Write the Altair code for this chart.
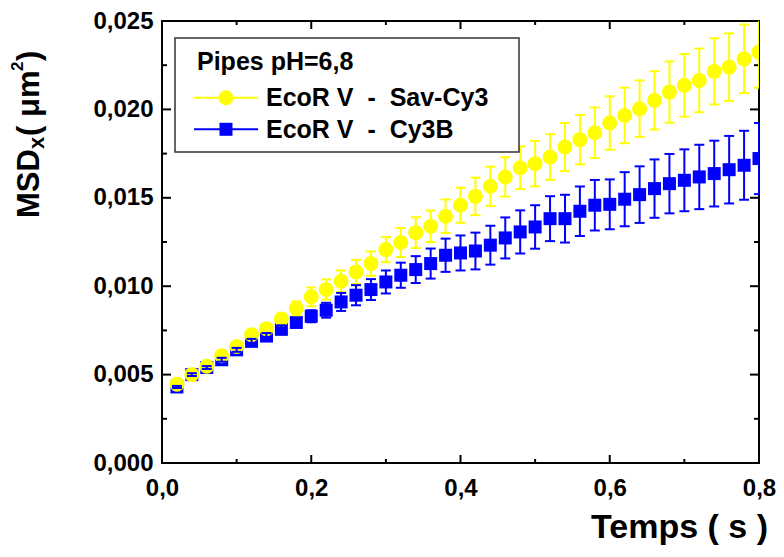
import altair as alt
import pandas as pd

# ---------------- data ----------------
t = [0.02, 0.04, 0.06, 0.08, 0.10, 0.12, 0.14, 0.16, 0.18, 0.20,
     0.22, 0.24, 0.26, 0.28, 0.30, 0.32, 0.34, 0.36, 0.38, 0.40,
     0.42, 0.44, 0.46, 0.48, 0.50, 0.52, 0.54, 0.56, 0.58, 0.60,
     0.62, 0.64, 0.66, 0.68, 0.70, 0.72, 0.74, 0.76, 0.78, 0.80]

sav_cy3 = [0.00446, 0.00500, 0.00547, 0.00607, 0.00659, 0.00725, 0.00760, 0.00814, 0.00874, 0.00940,
           0.00981, 0.01028, 0.01081, 0.01128, 0.01207, 0.01247, 0.01303, 0.01339, 0.01396, 0.01458,
           0.01508, 0.01565, 0.01618, 0.01670, 0.01693, 0.01731, 0.01787, 0.01829, 0.01868, 0.01923,
           0.01966, 0.02004, 0.02051, 0.02098, 0.02136, 0.02164, 0.02215, 0.02239, 0.02286, 0.02324]

sav_cy3_err = [0.00006, 0.00008, 0.00011, 0.00011, 0.00014, 0.00017, 0.00023, 0.00028, 0.00040, 0.00053,
               0.00057, 0.00061, 0.00068, 0.00069, 0.00071, 0.00082, 0.00087, 0.00089, 0.00095, 0.00099,
               0.00106, 0.00111, 0.00111, 0.00121, 0.00128, 0.00129, 0.00136, 0.00140, 0.00143, 0.00151,
               0.00157, 0.00160, 0.00165, 0.00173, 0.00177, 0.00180, 0.00187, 0.00191, 0.00194, 0.00201]

cy3b = [0.00430, 0.00500, 0.00540, 0.00584, 0.00640, 0.00688, 0.00718, 0.00756, 0.00795, 0.00830,
        0.00864, 0.00911, 0.00949, 0.00981, 0.01024, 0.01062, 0.01094, 0.01128, 0.01175, 0.01188,
        0.01199, 0.01232, 0.01273, 0.01307, 0.01335, 0.01382, 0.01382, 0.01424, 0.01458, 0.01463,
        0.01492, 0.01518, 0.01552, 0.01580, 0.01599, 0.01618, 0.01637, 0.01659, 0.01684, 0.01722]

cy3b_err = [0.00006, 0.00008, 0.00008, 0.00011, 0.00011, 0.00014, 0.00017, 0.00023, 0.00028, 0.00034,
            0.00042, 0.00051, 0.00057, 0.00059, 0.00065, 0.00071, 0.00076, 0.00085, 0.00094, 0.00099,
            0.00104, 0.00110, 0.00116, 0.00122, 0.00123, 0.00127, 0.00135, 0.00140, 0.00143, 0.00141,
            0.00153, 0.00160, 0.00165, 0.00168, 0.00175, 0.00182, 0.00186, 0.00191, 0.00195, 0.00201]

x_label_values = [0.0, 0.2, 0.4, 0.6, 0.8]
y_label_values = [0.0, 0.005, 0.010, 0.015, 0.020, 0.025]
x_major = [0.2, 0.4, 0.6]
x_minor = [0.1, 0.3, 0.5, 0.7]
y_major = [0.005, 0.010, 0.015, 0.020]
y_minor = [0.0025, 0.0075, 0.0125, 0.0175, 0.0225]

legend_title = "Pipes pH=6,8"
series_names = ["EcoR V\u00a0\u00a0-\u00a0\u00a0Sav-Cy3", "EcoR V\u00a0\u00a0-\u00a0\u00a0Cy3B"]

# ---------------- styling ----------------
W, H = 597, 442
FONT = "Liberation Sans"
YELLOW = "#FFFF00"
BLUE = "#0000FF"

xscale = alt.Scale(domain=[0, 0.8], nice=False, zero=False)
yscale = alt.Scale(domain=[0, 0.025], nice=False, zero=False)

xaxis = alt.Axis(values=x_label_values,
                 labelExpr="replace(format(datum.value, '.1f'), '.', ',')",
                 ticks=False, domain=False, grid=False,
                 labelFont=FONT, labelFontSize=24, labelFontWeight="bold",
                 labelColor="black", labelPadding=13, labelFlush=False,
                 labelOverlap=False, title=None)
yaxis = alt.Axis(values=y_label_values,
                 labelExpr="replace(format(datum.value, '.3f'), '.', ',')",
                 ticks=False, domain=False, grid=False,
                 labelFont=FONT, labelFontSize=24, labelFontWeight="bold",
                 labelColor="black", labelPadding=9, labelFlush=False,
                 labelOverlap=False, title=None)

df_y = pd.DataFrame({"t": t, "m": sav_cy3, "e": sav_cy3_err})
df_y["lo"] = df_y["m"] - df_y["e"]
df_y["hi"] = df_y["m"] + df_y["e"]
df_b = pd.DataFrame({"t": t, "m": cy3b, "e": cy3b_err})
df_b["lo"] = df_b["m"] - df_b["e"]
df_b["hi"] = df_b["m"] + df_b["e"]

X = lambda f: alt.X(f, type="quantitative", scale=xscale, axis=xaxis)
Y = lambda f: alt.Y(f, type="quantitative", scale=yscale, axis=yaxis)


def errbars(df, color):
    bar = alt.Chart(df).mark_rule(color=color, strokeWidth=2, clip=True).encode(
        x=X("t"), y=Y("lo"), y2=alt.Y2("hi"))
    cap_hi = alt.Chart(df).mark_tick(color=color, orient="horizontal", size=10,
                                     thickness=2, opacity=1, clip=True).encode(x=X("t"), y=Y("hi"))
    cap_lo = alt.Chart(df).mark_tick(color=color, orient="horizontal", size=10,
                                     thickness=2, opacity=1, clip=True).encode(x=X("t"), y=Y("lo"))
    return [bar, cap_hi, cap_lo]


blue_pts = alt.Chart(df_b).mark_point(shape="square", filled=True, size=169, color=BLUE,
                                      opacity=1, clip=True).encode(x=X("t"), y=Y("m"))
yellow_pts = alt.Chart(df_y).mark_point(shape="circle", filled=True, size=225, color=YELLOW,
                                        opacity=1, clip=True).encode(x=X("t"), y=Y("m"))


# inward ticks (Origin-like frame)
def xticks(vals, length):
    d = pd.DataFrame({"v": vals})
    bot = alt.Chart(d).mark_rule(color="black", strokeWidth=2).encode(
        x=X("v"), y=alt.value(H), y2=alt.value(H - length))
    top = alt.Chart(d).mark_rule(color="black", strokeWidth=2).encode(
        x=X("v"), y=alt.value(0), y2=alt.value(length))
    return [bot, top]


def yticks(vals, length):
    d = pd.DataFrame({"v": vals})
    left = alt.Chart(d).mark_rule(color="black", strokeWidth=2).encode(
        y=Y("v"), x=alt.value(0), x2=alt.value(length))
    right = alt.Chart(d).mark_rule(color="black", strokeWidth=2).encode(
        y=Y("v"), x=alt.value(W), x2=alt.value(W - length))
    return [left, right]


one = pd.DataFrame({"k": [0]})


def text(s, x, y, size, angle=0, align="left", baseline="alphabetic"):
    kw = dict(text=s, font=FONT, fontSize=size, fontWeight="bold", color="black",
              align=align, baseline=baseline)
    if angle:
        kw["angle"] = angle
    return alt.Chart(one).mark_text(**kw).encode(x=alt.value(x), y=alt.value(y))


# legend
legend = [
    alt.Chart(one).mark_rect(fill="white", stroke="#333333", strokeWidth=1.5).encode(
        x=alt.value(13), x2=alt.value(357), y=alt.value(17), y2=alt.value(131)),
    text(legend_title, 35, 49, 25),
    alt.Chart(one).mark_rule(color=YELLOW, strokeWidth=2).encode(
        x=alt.value(32), x2=alt.value(96), y=alt.value(76.7)),
    alt.Chart(one).mark_point(shape="circle", filled=True, size=225, color=YELLOW, opacity=1).encode(
        x=alt.value(64), y=alt.value(76.7)),
    text(series_names[0], 104, 85, 25),
    alt.Chart(one).mark_rule(color=BLUE, strokeWidth=2).encode(
        x=alt.value(32), x2=alt.value(96), y=alt.value(108.3)),
    alt.Chart(one).mark_point(shape="square", filled=True, size=169, color=BLUE, opacity=1).encode(
        x=alt.value(64), y=alt.value(108.3)),
    text(series_names[1], 104, 117, 25),
]

# axis titles (rich text composed of pieces)
ytitle = [
    text("MSD", -123, 197, 31, angle=270),
    text("x", -118, 128, 22, angle=270),
    text("(\u00a0\u03bcm", -123, 115, 31, angle=270),
    text("2", -139, 50, 17, angle=270),
    text("\u00a0)", -123, 40, 31, angle=270),
]
xtitle = [text("Temps ( s )", 606, 517, 34, align="right")]

layers = (xticks(x_major, 8) + xticks(x_minor, 4) + yticks(y_major, 9) + yticks(y_minor, 5)
          + [blue_pts, yellow_pts] + errbars(df_y, YELLOW) + errbars(df_b, BLUE)
          + legend + ytitle + xtitle)

chart = alt.layer(*layers).properties(
    width=W, height=H,
    autosize=alt.AutoSizeParams(type="none"),
    padding={"left": 154, "top": 13, "right": 17, "bottom": 85},
    background="white",
).configure_view(stroke="black", strokeWidth=2)

chart.save("out.html", embed_options={"renderer": "svg", "actions": False})
